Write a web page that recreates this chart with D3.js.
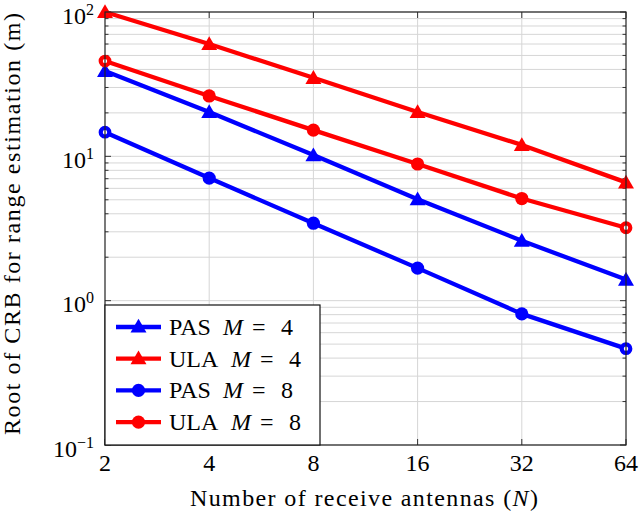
<!DOCTYPE html>
<html>
<head>
<meta charset="utf-8">
<script src="https://cdn.jsdelivr.net/npm/d3@7"></script>
<style>
  body { margin: 0; background: #fff; }
  svg { font-family: "Liberation Serif", "DejaVu Serif", serif; }
</style>
</head>
<body>
<svg id="chart" width="640" height="514"></svg>
<script>
// data
var antennas = [2, 4, 8, 16, 32, 64]
var pasM4 = [39, 20.3, 10.2, 5.05, 2.6, 1.4]
var ulaM4 = [100, 60, 35, 20.3, 12, 6.6]
var pasM8 = [14.7, 7.07, 3.44, 1.68, 0.81, 0.465]
var ulaM8 = [45.7, 26.2, 15.2, 8.85, 5.1, 3.2]
var yTicks = [0.1, 1, 10, 100]
var yExp = ['\u22121', '0', '1', '2']

var series = [
  {name: 'PAS', m: 4, values: pasM4, color: '#0000ff', mark: 'tri'},
  {name: 'ULA', m: 4, values: ulaM4, color: '#ff0000', mark: 'tri'},
  {name: 'PAS', m: 8, values: pasM8, color: '#0000ff', mark: 'dot'},
  {name: 'ULA', m: 8, values: ulaM8, color: '#ff0000', mark: 'dot'}
]

var pLeft = 105, pRight = 626, pTop = 12, pBottom = 445
var svg = d3.select('#chart')

var x = d3.scaleLog().base(2).domain([2, 64]).range([pLeft, pRight])
var y = d3.scaleLog().domain([0.1, 100]).range([pBottom, pTop])

// grid
var minor = []
for (var k = -1; k < 2; k++) for (var j = 1; j < 10; j++) minor.push(j * Math.pow(10, k))
minor.push(100)

var grid = svg.append('g').attr('stroke', '#d6d6d6').attr('stroke-width', 1)
grid.selectAll('line.h').data(minor).join('line')
    .attr('x1', pLeft).attr('x2', pRight)
    .attr('y1', d => y(d)).attr('y2', d => y(d))
grid.selectAll('line.v').data(antennas.slice(1, -1)).join('line')
    .attr('x1', d => x(d)).attr('x2', d => x(d))
    .attr('y1', pTop).attr('y2', pBottom)

// ticks, inside both sides
var ticks = svg.append('g').attr('stroke', '#333').attr('stroke-width', 1)
minor.forEach(function(d) {
  var len = yTicks.includes(d) ? 6 : 3.5
  ticks.append('line').attr('x1', pLeft).attr('x2', pLeft + len).attr('y1', y(d)).attr('y2', y(d))
  ticks.append('line').attr('x1', pRight).attr('x2', pRight - len).attr('y1', y(d)).attr('y2', y(d))
})
antennas.forEach(function(d) {
  ticks.append('line').attr('x1', x(d)).attr('x2', x(d)).attr('y1', pBottom).attr('y2', pBottom - 6)
  ticks.append('line').attr('x1', x(d)).attr('x2', x(d)).attr('y1', pTop).attr('y2', pTop + 6)
})

// lines and marks
var line = d3.line().x((d, i) => x(antennas[i])).y(d => y(d))
var triangle = d3.symbol().type(d3.symbolTriangle).size(110)

series.forEach(function(s) {
  svg.append('path').datum(s.values)
      .attr('d', line)
      .attr('fill', 'none')
      .attr('stroke', s.color)
      .attr('stroke-width', 4.3)
      .attr('stroke-linejoin', 'round')
  s.values.forEach(function(v, i) {
    var px = x(antennas[i]), py = y(v)
    if (s.mark === 'tri') {
      svg.append('path').attr('d', triangle)
          .attr('transform', 'translate(' + px + ',' + (py + 1.5) + ')')
          .attr('fill', s.color)
    } else if (i === 0 || i === antennas.length - 1) {
      svg.append('circle').attr('cx', px).attr('cy', py).attr('r', 4.3)
          .attr('fill', '#fff').attr('stroke', s.color).attr('stroke-width', 4.2)
    } else {
      svg.append('circle').attr('cx', px).attr('cy', py).attr('r', 6.6).attr('fill', s.color)
    }
  })
})

// frame
svg.append('rect').attr('x', pLeft).attr('y', pTop).attr('width', pRight - pLeft).attr('height', pBottom - pTop)
    .attr('fill', 'none').attr('stroke', '#222').attr('stroke-width', 1.2)

// tick labels
svg.append('g').selectAll('text').data(antennas).join('text')
    .attr('x', d => x(d)).attr('y', 471)
    .attr('text-anchor', 'middle').attr('font-size', 24)
    .text(d => d)

yTicks.forEach(function(d, i) {
  var t = svg.append('text').attr('x', 94).attr('y', y(d) + 11.5)
      .attr('text-anchor', 'end').attr('font-size', 24)
  t.append('tspan').text('10')
  t.append('tspan').attr('dy', -9).attr('font-size', 16).text(yExp[i])
})

// axis titles
var xt = svg.append('text').attr('x', 190).attr('y', 506).attr('font-size', 24)
    .attr('textLength', 348).attr('lengthAdjust', 'spacing')
xt.append('tspan').text('Number of receive antennas (')
xt.append('tspan').attr('font-style', 'italic').text('N')
xt.append('tspan').text(')')

svg.append('text').attr('transform', 'translate(20,224) rotate(-90)')
    .attr('text-anchor', 'middle').attr('font-size', 24)
    .attr('textLength', 422).attr('lengthAdjust', 'spacing')
    .text('Root of CRB for range estimation (m)')

// legend
var lg = svg.append('g')
lg.append('rect').attr('x', pLeft).attr('y', 305).attr('width', 215).attr('height', 140)
    .attr('fill', '#fff').attr('stroke', '#111').attr('stroke-width', 1.2)
series.forEach(function(s, i) {
  var ly = 327 + i * 31.7
  var shift = s.name === 'ULA' ? 8 : 0
  lg.append('line').attr('x1', 116).attr('x2', 161).attr('y1', ly).attr('y2', ly)
      .attr('stroke', s.color).attr('stroke-width', 4.3)
  if (s.mark === 'tri') {
    lg.append('path').attr('d', triangle).attr('transform', 'translate(138.5,' + (ly + 1) + ')').attr('fill', s.color)
  } else {
    lg.append('circle').attr('cx', 138.5).attr('cy', ly).attr('r', 6.6).attr('fill', s.color)
  }
  var t = lg.append('g').attr('font-size', 24)
  t.append('text').attr('x', 169).attr('y', ly + 8).text(s.name)
  t.append('text').attr('x', 223 + shift).attr('y', ly + 8).attr('font-style', 'italic').text('M')
  t.append('text').attr('x', 252 + shift).attr('y', ly + 8).text('=')
  t.append('text').attr('x', 281 + shift).attr('y', ly + 8).text(s.m)
})
</script>
</body>
</html>
